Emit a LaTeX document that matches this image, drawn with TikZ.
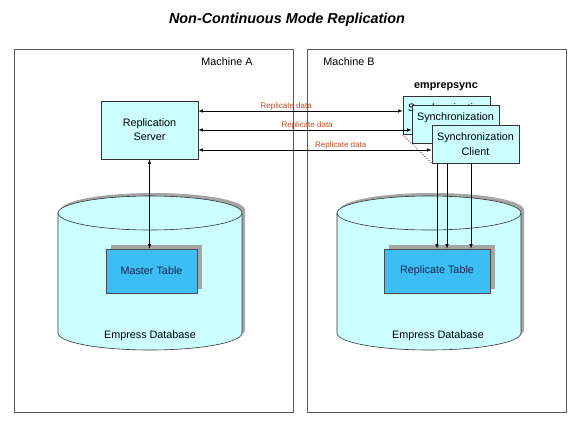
\documentclass[tikz,border=0pt]{standalone}
\usepackage{fontspec}
\setmainfont{Liberation Sans}
\usetikzlibrary{shapes.geometric, arrows, shadows}
\definecolor{dbcyan}{RGB}{204,255,255}
\definecolor{tblue}{RGB}{60,190,245}
\definecolor{tnavy}{RGB}{25,35,80}
\definecolor{shadegray}{RGB}{165,165,165}
\definecolor{labelred}{RGB}{190,75,35}
\definecolor{framegray}{RGB}{90,90,90}
\tikzstyle{machine} = [rectangle, draw=framegray, line width=0.9pt]
\tikzstyle{server} = [rectangle, draw=black!80, fill=dbcyan, align=center, minimum width=97pt, minimum height=58pt, line width=0.6pt]
\tikzstyle{client} = [rectangle, draw=black!80, fill=dbcyan, align=center, minimum width=87pt, minimum height=38pt, inner sep=1pt, line width=0.6pt, font=\fontsize{10.8}{15}\selectfont]
\tikzstyle{dbtable} = [rectangle, draw=black!70, fill=tblue, text=tnavy, minimum height=44pt, line width=0.6pt, drop shadow={shadow xshift=5pt, shadow yshift=4pt, fill=shadegray, opacity=1}]
\tikzstyle{dbase} = [draw=black!80, fill=dbcyan, line width=0.6pt]
\tikzstyle{dbshade} = [fill=shadegray]
\tikzstyle{arrow} = [->, >=latex, line width=0.6pt]
\tikzstyle{dblarrow} = [<->, >=latex, line width=0.6pt]
\tikzstyle{datalabel} = [above, text=labelred, font=\fontsize{8}{9}\selectfont, inner sep=1pt]

\begin{document}
\begin{tikzpicture}
			[x=1pt, y=-1pt, font=\fontsize{10.8}{14}\selectfont]
			\useasboundingbox (0,0) rectangle (576,432);

			\node (title) at (287,20) {\fontsize{14.4}{16}\selectfont\bfseries\itshape Non-Continuous Mode Replication};

			\node (macha) [machine, minimum width=279pt, minimum height=363pt] at (153.5,230.5) {};
			\node (machb) [machine, minimum width=259pt, minimum height=363pt] at (436.5,230.5) {};
			\node (namea) at (227,62) {Machine A};
			\node (nameb) at (349,62) {Machine B};

			% database A
			\fill [dbshade] (61,210) -- (61,330) arc[start angle=180, end angle=360, x radius=92pt, y radius=17pt] -- (245,210) arc[start angle=0, end angle=180, x radius=92pt, y radius=17pt] -- cycle;
			\draw [dbase] (58,213) -- (58,333) arc[start angle=180, end angle=360, x radius=92pt, y radius=17pt] -- (242,213) arc[start angle=0, end angle=180, x radius=92pt, y radius=17pt] -- cycle;
			\draw [dbase, fill=none] (58,213) arc[start angle=180, end angle=360, x radius=92pt, y radius=17pt];
			\node (dbnamea) at (150,336) {Empress Database};

			% database B
			\fill [dbshade] (340,210) -- (340,330) arc[start angle=180, end angle=360, x radius=92pt, y radius=17pt] -- (524,210) arc[start angle=0, end angle=180, x radius=92pt, y radius=17pt] -- cycle;
			\draw [dbase] (337,213) -- (337,333) arc[start angle=180, end angle=360, x radius=92pt, y radius=17pt] -- (521,213) arc[start angle=0, end angle=180, x radius=92pt, y radius=17pt] -- cycle;
			\draw [dbase, fill=none] (337,213) arc[start angle=180, end angle=360, x radius=92pt, y radius=17pt];
			\node (dbnameb) at (438,336) {Empress Database};

			\node (master) [dbtable, minimum width=91pt] at (151.5,271) {Master Table};
			\node (replica) [dbtable, minimum width=106pt] at (437,271) {Replicate Table};

			\node (server) [server] at (149.5,130) {Replication\\Server};

			\node (syncname) at (446,87) {\bfseries emprepsync};
			\node (synca) [client] at (446.5,115.5) {Synchronization\\Client};
			\node (syncb) [client] at (455.5,124.5) {Synchronization\\Client};
			\node (syncc) [client] at (475.5,144) {Synchronization\\Client};
			\draw [dotted, line width=0.8pt] (synca.south west) -- (syncc.south west);

			\draw [dblarrow] (server.east |- 0,111) -- node[datalabel, pos=0.43] {Replicate data} (synca.west |- 0,111);
			\draw [dblarrow] (server.east |- 0,130) -- node[datalabel, pos=0.51] {Replicate data} (syncb.west |- 0,130);
			\draw [dblarrow] (server.east |- 0,150) -- node[datalabel, pos=0.61] {Replicate data} (syncc.west |- 0,150);

			\draw [dblarrow] (server.south) -- (server.south |- master.north);
			\draw [arrow] (437,0 |- syncc.south) -- (437,0 |- replica.north);
			\draw [arrow] (447,0 |- syncc.south) -- (447,0 |- replica.north);
			\draw [arrow] (471,0 |- syncc.south) -- (471,0 |- replica.north);

			\end{tikzpicture}
\end{document}
